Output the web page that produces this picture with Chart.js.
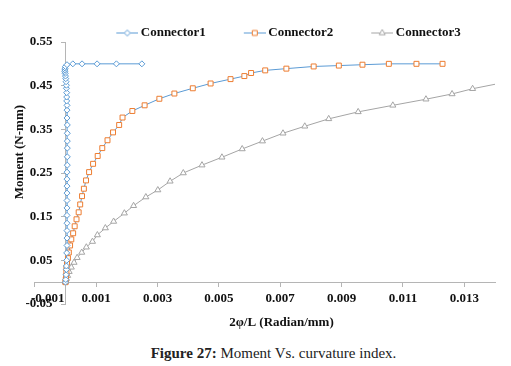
<!DOCTYPE html>
<html>
<head>
<meta charset="utf-8">
<script src="https://cdn.jsdelivr.net/npm/chart.js@4"></script>
<style>
  html, body { margin: 0; padding: 0; background: #fff; }
  #wrap { position: relative; width: 511px; height: 340px; }
  #caption { width: 511px; height: 26px; line-height: 26px; box-sizing: border-box; padding-left: 36px;
             text-align: center; font-family: "Liberation Serif", serif; font-size: 15px; color: #222; }
</style>
</head>
<body>
<div id="wrap"><canvas id="c" width="511" height="340"></canvas></div>
<div id="caption"><b>Figure 27:</b> Moment Vs. curvature index.</div>
<script>
// ---- data ----
const seriesNames = ["Connector1", "Connector2", "Connector3"];

const c1x = [0, 0.00001, 0.00002, 0.00003, 0.00003, 0.00004, 0.00004, 0.00005, 0.00005, 0.00005,
             0.00005, 0.00005, 0.00005, 0.00005, 0.00005, 0.00005, 0.00005, 0.00005, 0.00006, 0.00006,
             0.00006, 0.00006, 0.00006, 0.00006, 0.00005, 0.00005, 0.00005, 0.00004, 0.00004, 0.00004,
             0.00003, 0.00003, 0.00002, 0.00001, 0.0, -0.00001, -0.00002, -0.00002, -0.00001, 0.0,
             0.00005, 0.00024, 0.00054, 0.00103, 0.00166, 0.00249];
const c1y = [0, 0.006, 0.017, 0.029, 0.037, 0.05, 0.067, 0.084, 0.101, 0.118,
             0.135, 0.153, 0.17, 0.187, 0.204, 0.22, 0.236, 0.252, 0.268, 0.287,
             0.307, 0.323, 0.341, 0.36, 0.376, 0.394, 0.405, 0.415, 0.424, 0.434,
             0.444, 0.451, 0.459, 0.466, 0.472, 0.478, 0.482, 0.486, 0.49, 0.494,
             0.498, 0.5, 0.5, 0.5, 0.5, 0.5];

const c2x = [0, 0.00001, 0.00002, 0.00003, 0.00003, 0.00005, 0.00008, 0.00011, 0.00015, 0.00019,
             0.00025, 0.0003, 0.00036, 0.00043, 0.00048, 0.00054, 0.0006, 0.00067, 0.00077, 0.0009,
             0.00105, 0.0012, 0.00137, 0.00155, 0.00175, 0.00186, 0.00218, 0.00258, 0.00306, 0.00355,
             0.00415, 0.00473, 0.00538, 0.00583, 0.00605, 0.00651, 0.0072, 0.00809, 0.00891, 0.00968,
             0.01054, 0.01144, 0.01229];
const c2y = [0, 0.006, 0.014, 0.023, 0.033, 0.044, 0.055, 0.068, 0.084, 0.098,
             0.112, 0.128, 0.144, 0.16, 0.178, 0.197, 0.214, 0.233, 0.252, 0.271,
             0.289, 0.307, 0.325, 0.343, 0.36, 0.377, 0.392, 0.405, 0.42, 0.432,
             0.444, 0.455, 0.465, 0.472, 0.479, 0.485, 0.489, 0.494, 0.496, 0.498,
             0.5, 0.5, 0.5];

const c3x = [0, 0.00003, 0.00007, 0.00012, 0.00019, 0.00028, 0.00038, 0.00053, 0.00068, 0.00088,
             0.00104, 0.0013, 0.00157, 0.00192, 0.00222, 0.00262, 0.00301, 0.00341, 0.00384, 0.00445,
             0.0051, 0.00576, 0.00642, 0.00709, 0.0078, 0.00858, 0.00954, 0.01067, 0.01175, 0.0126,
             0.01327, 0.0142];
const c3y = [0, 0.008, 0.015, 0.024, 0.034, 0.045, 0.056, 0.068, 0.08, 0.093,
             0.108, 0.124, 0.139, 0.158, 0.175, 0.195, 0.211, 0.231, 0.25, 0.268,
             0.286, 0.305, 0.323, 0.341, 0.357, 0.374, 0.39, 0.405, 0.419, 0.431,
             0.443, 0.456];

const xTickValues = [-0.001, 0.001, 0.003, 0.005, 0.007, 0.009, 0.011, 0.013];
const yTickValues = [-0.05, 0.05, 0.15, 0.25, 0.35, 0.45, 0.55];
const xTitle = "2\u03C6/L (Radian/mm)";
const yTitle = "Moment (N-mm)";

// ---- styling ----
const BLUE = "#5B9BD5", ORANGE = "#ED7D31", GRAY = "#A5A5A5", AXIS = "#b5b5b5";
const FONT = '"Liberation Serif", "Times New Roman", serif';
const EM = '\u2003';

const pts = (xs, ys) => xs.map((x, i) => ({ x: x, y: ys[i] }));

function legendIcon(lineColor, markColor, style, radius) {
  const cv = document.createElement('canvas');
  cv.width = 64; cv.height = 9;
  const g = cv.getContext('2d');
  g.strokeStyle = lineColor; g.lineWidth = 1;
  g.beginPath(); g.moveTo(42, 4.5); g.lineTo(64, 4.5); g.stroke();
  g.fillStyle = '#fff'; g.strokeStyle = markColor;
  Chart.helpers.drawPoint(g, { pointStyle: style, radius: radius, borderWidth: 1, rotation: 0 }, 53, 4.5);
  return cv;
}
const icons = [
  legendIcon(BLUE, BLUE, 'rectRot', 3),
  legendIcon(BLUE, ORANGE, 'rect', 3.5),
  legendIcon(GRAY, GRAY, 'triangle', 3.5)
];

const axisTitles = {
  id: 'axisTitles',
  afterLayout(chart) {
    // Excel places this legend slightly right of centre
    if (chart.legend) { chart.legend.left += 5; chart.legend.right += 5; }
  },
  afterDraw(chart) {
    const { ctx, chartArea: a } = chart;
    ctx.save();
    ctx.font = 'bold 13px ' + FONT;
    ctx.fillStyle = '#111';
    ctx.textAlign = 'center';
    ctx.textBaseline = 'middle';
    ctx.fillText(xTitle, a.left + (a.right - a.left) * 0.536, a.bottom + 18.5);
    ctx.translate(a.left - 15, a.top + (a.bottom - a.top) * 0.42);
    ctx.rotate(-Math.PI / 2);
    ctx.fillText(yTitle, 0, 0);
    ctx.restore();
  }
};

const ds = (label, data, lineColor, markColor, style, radius) => ({
  label: label, data: data, showLine: true,
  borderColor: lineColor, borderWidth: 1, backgroundColor: lineColor,
  pointStyle: style, pointRadius: radius, pointHoverRadius: radius,
  pointBorderColor: markColor, pointBackgroundColor: '#fff', pointBorderWidth: 1,
  tension: 0
});

new Chart(document.getElementById('c'), {
  type: 'scatter',
  data: {
    datasets: [
      ds(seriesNames[0], pts(c1x, c1y), BLUE, BLUE, 'rectRot', 3),
      ds(seriesNames[1], pts(c2x, c2y), BLUE, ORANGE, 'rect', 3.5),
      ds(seriesNames[2], pts(c3x, c3y), GRAY, GRAY, 'triangle', 3.5)
    ]
  },
  plugins: [axisTitles],
  options: {
    responsive: false, animation: false,
    layout: { padding: { left: 34, right: 16, top: 26.5, bottom: 36 } },
    plugins: {
      tooltip: { enabled: false },
      legend: {
        position: 'top', maxHeight: 15.5,
        labels: {
          usePointStyle: true, pointStyleWidth: 56, padding: 0,
          color: '#111', font: { family: FONT, size: 13, weight: 'bold' },
          generateLabels(chart) {
            const items = Chart.defaults.plugins.legend.labels.generateLabels(chart);
            items.forEach((it, i) => { it.pointStyle = icons[i]; });
            return items;
          }
        }
      }
    },
    scales: {
      x: {
        type: 'linear', position: { y: 0 }, min: -0.001, max: 0.014,
        afterBuildTicks: (s) => { s.ticks = xTickValues.map(v => ({ value: v })); },
        grid: { display: true, drawOnChartArea: false, drawTicks: true, tickLength: 4, color: AXIS },
        border: { display: true, color: AXIS, width: 1 },
        ticks: { padding: 5, color: '#111', font: { family: FONT, size: 13, weight: 'bold' },
                 maxRotation: 0, autoSkip: false,
                 callback: (v, i) => (i === 0 ? EM + EM : '') + Number(v).toFixed(3) }
      },
      y: {
        type: 'linear', position: { x: 0 }, min: -0.05, max: 0.55,
        afterBuildTicks: (s) => { s.ticks = yTickValues.map(v => ({ value: v })); },
        grid: { display: true, drawOnChartArea: false, drawTicks: true, tickLength: 4, color: AXIS },
        border: { display: true, color: AXIS, width: 1 },
        ticks: { padding: 8, color: '#111', font: { family: FONT, size: 13, weight: 'bold' },
                 autoSkip: false, callback: (v) => Number(v).toFixed(2) + EM }
      }
    }
  }
});
</script>
</body>
</html>
